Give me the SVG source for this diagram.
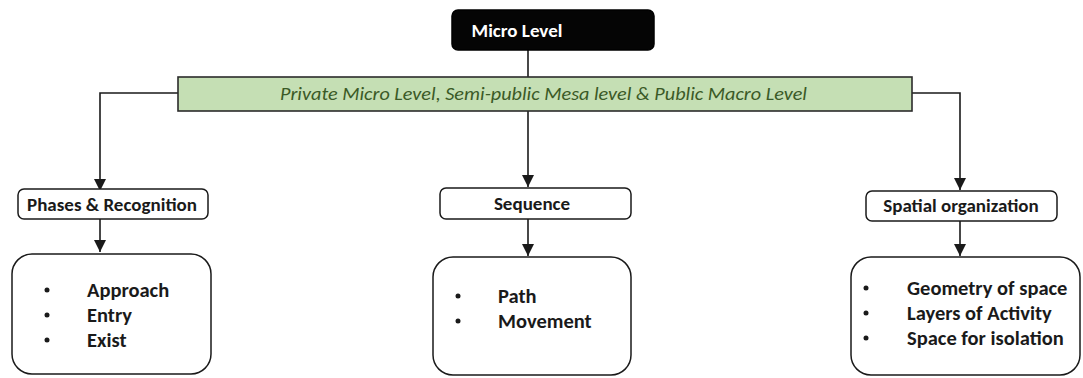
<svg xmlns="http://www.w3.org/2000/svg" width="1083" height="378" viewBox="0 0 1083 378">
  <defs>
    <marker id="arrow" viewBox="0 0 10 10" refX="10" refY="5" markerWidth="12" markerHeight="12" markerUnits="userSpaceOnUse" orient="auto">
      <path d="M0,0 L10,5 L0,10 Z" fill="#1a1a1a"/>
    </marker>
    <style>
      .conn { fill: none; stroke: #1a1a1a; stroke-width: 1.6; }
      .head { fill: #050505; stroke: #000; stroke-width: 1.5; }
      .band { fill: #c5dfb4; stroke: #2b2b2b; stroke-width: 1.6; }
      .label { fill: #fff; stroke: #1a1a1a; stroke-width: 1.5; }
      .list { fill: #fff; stroke: #1a1a1a; stroke-width: 1.5; }
      text { font-family: Carlito, Lato, "Liberation Sans", sans-serif; fill: #1a1a1a; }
      .title { fill: #fff; font-size: 19px; font-weight: bold; }
      .bandtxt { fill: #3b5a27; font-size: 18px; font-style: italic; }
      .lbl { font-size: 19px; font-weight: 600; text-anchor: middle; }
      .item { font-size: 20.5px; font-weight: bold; }
      .dot { fill: #1a1a1a; }
    </style>
  </defs>

  <!-- connectors -->
  <g id="connectors">
    <path class="conn" d="M528,50 V77"/>
    <path class="conn" d="M178,93 H100 V191" marker-end="url(#arrow)"/>
    <path class="conn" d="M100,219 V252" marker-end="url(#arrow)"/>
    <path class="conn" d="M528,111 V187" marker-end="url(#arrow)"/>
    <path class="conn" d="M528,219 V256" marker-end="url(#arrow)"/>
    <path class="conn" d="M912,93 H960 V190" marker-end="url(#arrow)"/>
    <path class="conn" d="M960,221 V256" marker-end="url(#arrow)"/>
  </g>

  <!-- top node -->
  <g id="micro-level">
    <rect class="head" x="452" y="10" width="202" height="40" rx="6"/>
    <text class="title" x="517" y="37" text-anchor="middle">Micro Level</text>
  </g>

  <!-- scale band -->
  <g id="levels">
    <rect class="band" x="178" y="77" width="734" height="34"/>
    <text class="bandtxt" x="280" y="100" textLength="527" lengthAdjust="spacingAndGlyphs">Private Micro Level, Semi-public Mesa level &amp; Public Macro Level</text>
  </g>

  <!-- left branch -->
  <g id="phases">
    <rect class="label" x="18" y="189" width="190" height="30" rx="6"/>
    <text class="lbl" x="112" y="211">Phases &amp; Recognition</text>
  </g>
  <g id="phases-list">
    <rect class="list" x="12" y="254" width="199" height="120" rx="20"/>
    <circle class="dot" cx="47" cy="290" r="2.5"/>
    <circle class="dot" cx="47" cy="315" r="2.5"/>
    <circle class="dot" cx="47" cy="340" r="2.5"/>
    <text class="item" x="87" y="297">Approach</text>
    <text class="item" x="87" y="322">Entry</text>
    <text class="item" x="87" y="347">Exist</text>
  </g>

  <!-- middle branch -->
  <g id="sequence">
    <rect class="label" x="440" y="188" width="191" height="31" rx="6"/>
    <text class="lbl" x="532" y="210">Sequence</text>
  </g>
  <g id="sequence-list">
    <rect class="list" x="433" y="257" width="198" height="118" rx="20"/>
    <circle class="dot" cx="458" cy="296" r="2.5"/>
    <circle class="dot" cx="458" cy="321" r="2.5"/>
    <text class="item" x="498" y="303">Path</text>
    <text class="item" x="498" y="328">Movement</text>
  </g>

  <!-- right branch -->
  <g id="spatial">
    <rect class="label" x="866" y="191" width="191" height="30" rx="6"/>
    <text class="lbl" x="961" y="212">Spatial  organization</text>
  </g>
  <g id="spatial-list">
    <rect class="list" x="851" y="257" width="229" height="118" rx="20"/>
    <circle class="dot" cx="866" cy="288" r="2.5"/>
    <circle class="dot" cx="866" cy="313" r="2.5"/>
    <circle class="dot" cx="866" cy="338" r="2.5"/>
    <text class="item" x="907" y="295">Geometry of space</text>
    <text class="item" x="907" y="320">Layers of Activity</text>
    <text class="item" x="907" y="345">Space for isolation</text>
  </g>
</svg>
